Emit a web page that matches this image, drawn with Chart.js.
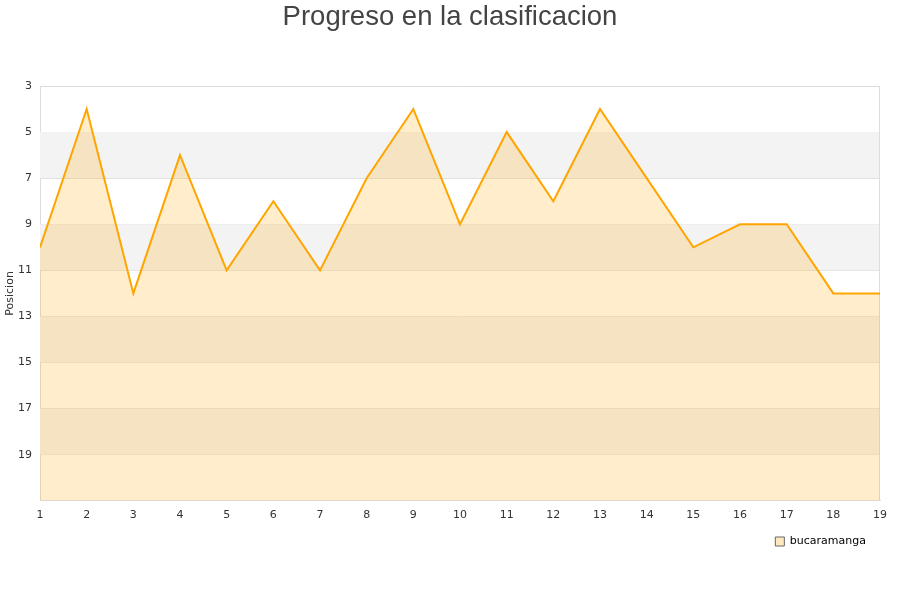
<!DOCTYPE html>
<html>
<head>
<meta charset="utf-8">
<script src="https://cdn.jsdelivr.net/npm/chart.js@4/dist/chart.umd.min.js"></script>
<style>
  body { margin: 0; background: #fff; }
  #wrap { position: relative; width: 900px; height: 600px; }
</style>
</head>
<body>
<div id="wrap"><canvas id="myChart" width="900" height="600"></canvas></div>
<script>
const jornadas = [1, 2, 3, 4, 5, 6, 7, 8, 9, 10, 11, 12, 13, 14, 15, 16, 17, 18, 19]
const posiciones = [10, 4, 12, 6, 11, 8, 11, 7, 4, 9, 5, 8, 4, 7, 10, 9, 9, 12, 12]
const equipo = 'bucaramanga'
const yTicks = [3, 5, 7, 9, 11, 13, 15, 17, 19]
const bands = [[5, 7], [9, 11], [13, 15], [17, 19]]

// gray stripes behind the data, plus the line on the right of the plot
const bandPlugin = {
	id: 'bands',
	afterLayout(chart) {
		// legend sits 20px in from the right edge, title stays centred on the page
		chart.legend.right -= 20
	},
	beforeDatasetsDraw(chart) {
		const { ctx, chartArea, scales } = chart
		ctx.save()
		ctx.fillStyle = '#f3f3f3'
		bands.forEach(b => {
			const y1 = scales.y.getPixelForValue(b[0])
			const y2 = scales.y.getPixelForValue(b[1])
			ctx.fillRect(chartArea.left, y1, chartArea.right - chartArea.left, y2 - y1)
		})
		ctx.strokeStyle = '#dddddd'
		ctx.lineWidth = 1
		ctx.beginPath()
		ctx.moveTo(Math.round(chartArea.right) - 0.5, chartArea.top)
		ctx.lineTo(Math.round(chartArea.right) - 0.5, chartArea.bottom)
		ctx.stroke()
		ctx.restore()
	}
}

const ctx = document.getElementById('myChart')
Chart.defaults.font.family = '"DejaVu Sans", sans-serif'

new Chart(ctx, {
	type: 'line',
	data: {
		labels: jornadas,
		datasets: [
			{
				label: equipo,
				data: posiciones,
				borderColor: '#ffa500',
				backgroundColor: 'rgba(255, 165, 0, 0.2)',
				borderWidth: 2,
				pointRadius: 0,
				tension: 0,
				fill: 'start',
			},
		],
	},
	options: {
		responsive: false,
		animation: false,
		layout: {
			padding: { left: 0, right: 0, top: 0, bottom: 43 }
		},
		scales: {
			x: {
				type: 'linear',
				min: 1,
				max: 19,
				afterFit: axis => {
					axis.height -= 8
					axis.paddingRight = 20
				},
				ticks: { stepSize: 1, color: '#333', font: { size: 11 }, padding: 8 },
				grid: { display: false, drawTicks: false },
				border: { color: '#ddd' },
			},
			y: {
				reverse: true,
				min: 3,
				max: 21,
				afterBuildTicks: axis => { axis.ticks = yTicks.concat([21]).map(v => ({ value: v })) },
				afterFit: axis => { axis.width = 40 },
				ticks: {
					color: '#333',
					font: { size: 11 },
					padding: 8,
					callback: v => (v === 21 ? '' : v),
				},
				grid: { color: '#dddddd', drawTicks: false },
				border: { color: '#ddd' },
				title: { display: true, text: 'Posicion', color: '#333', font: { size: 11 }, padding: 4 },
			},
		},
		plugins: {
			title: {
				display: true,
				text: 'Progreso en la clasificacion',
				color: '#444',
				font: { size: 27.5, weight: 'normal', family: '"Liberation Sans", Arial, sans-serif' },
				padding: { top: 1, bottom: 52 },
			},
			legend: {
				position: 'bottom',
				align: 'end',
				labels: {
					color: '#111',
					boxWidth: 9,
					boxHeight: 9,
					font: { size: 11 },
					padding: 14,
					generateLabels: chart => [{
						text: equipo,
						fillStyle: 'rgba(255, 200, 100, 0.4)',
						strokeStyle: '#666',
						lineWidth: 1,
						datasetIndex: 0,
					}],
				},
			},
			tooltip: { enabled: false },
		},
	},
	plugins: [bandPlugin],
})
</script>
</body>
</html>
